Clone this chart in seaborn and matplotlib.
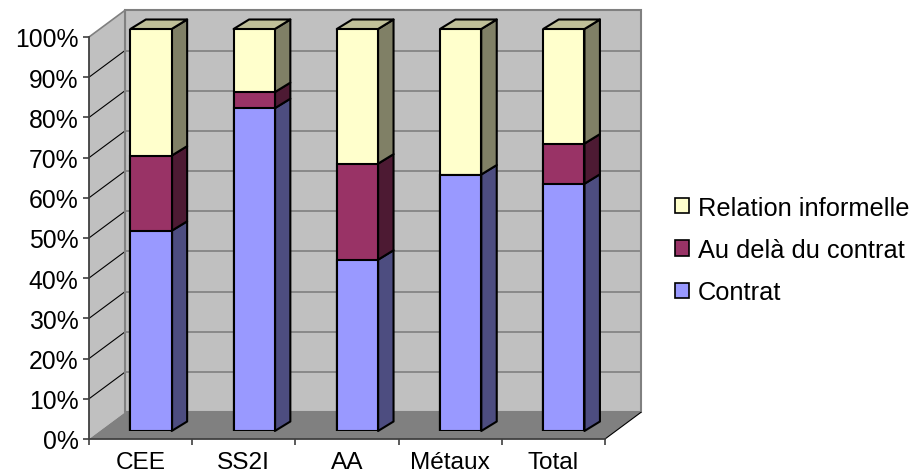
import numpy as np
import matplotlib
matplotlib.use("Agg")
import matplotlib.pyplot as plt
import seaborn as sns
from matplotlib.patches import Patch

categories = ["CEE", "SS2I", "AA", "Métaux", "Total"]
contrat = [49.8, 80.3, 42.6, 63.8, 61.5]
au_dela = [18.7, 4, 23.9, 0, 10]
informelle = [31.5, 15.7, 33.5, 36.2, 28.5]
y_ticks = [0, 10, 20, 30, 40, 50, 60, 70, 80, 90, 100]
series_names = ["Contrat", "Au delà du contrat", "Relation informelle"]

sns.set_theme(style="white")
plt.rcParams["font.family"] = ["Liberation Sans", "DejaVu Sans"]

W, H = 912, 477
colors = ["#9999FF", "#993366", "#FFFFCC"]
side_colors = ["#4D4D80", "#4D1A33", "#808066"]
top_color = "#C0C099"
wall = "#C0C0C0"
grid = "#808080"

fig = plt.figure(figsize=(W / 100, H / 100), dpi=100, facecolor="white")

# ── Front plane: ticks and labels, walls drawn behind with an offset ──
x0, x1, y0, y1 = 89, 605, 440, 38
ax = fig.add_axes([x0 / W, 1 - y0 / H, (x1 - x0) / W, (y0 - y1) / H])
ax.set_xlim(-0.5, 4.5)
ax.set_ylim(0, 100)
ax.patch.set_alpha(0)

px_x = 5 / (x1 - x0)
px_y = 100 / (y0 - y1)
depth_x, depth_y = 36 * px_x, 26.7 * px_y

# back wall
ax.fill([-0.5 + depth_x, 4.5 + depth_x, 4.5 + depth_x, -0.5 + depth_x],
        [depth_y, depth_y, 100 + depth_y, 100 + depth_y],
        fc=wall, ec=grid, lw=1.5, clip_on=False, zorder=1)
# left wall
ax.fill([-0.5, -0.5 + depth_x, -0.5 + depth_x, -0.5],
        [0, depth_y, 100 + depth_y, 100],
        fc=wall, ec="none", clip_on=False, zorder=1)
# floor
ax.fill([-0.5, -0.5 + depth_x, 4.5 + depth_x, 4.5],
        [0, depth_y, depth_y, 0],
        fc=grid, ec="none", clip_on=False, zorder=1.5)
ax.plot([4.5, 4.5 + depth_x], [0, depth_y], color="black", lw=0.8, clip_on=False, zorder=2)

for v in y_ticks[1:]:
    if v < 100:
        ax.plot([-0.5 + depth_x, 4.5 + depth_x], [v + depth_y] * 2, color=grid, lw=1.2,
                clip_on=False, zorder=1.6)
        ax.plot([-0.5, -0.5 + depth_x], [v, v + depth_y], color="black", lw=0.8,
                clip_on=False, zorder=2)
ax.plot([-0.5, -0.5 + depth_x], [100, 100 + depth_y], color=grid, lw=1.2, clip_on=False, zorder=2)
ax.plot([-0.5 + depth_x] * 2, [depth_y, 100 + depth_y], color=grid, lw=1.5, clip_on=False, zorder=2)

ax.set_yticks(y_ticks)
ax.set_yticklabels([f"{v}%" for v in y_ticks], fontsize=17.8, color="black")
ax.set_xticks(range(len(categories)))
ax.set_xticklabels(categories, fontsize=17.6, color="black")
ax.set_xticks(np.arange(-0.5, 5), minor=True)
ax.tick_params(axis="x", which="major", length=0, pad=8.5)
ax.tick_params(axis="x", which="minor", length=4.5, width=1.2, color="#404040", bottom=True)
ax.tick_params(axis="y", length=4.5, width=1.2, color="#404040", pad=3, left=True)
for s in ["top", "right"]:
    ax.spines[s].set_visible(False)
for s in ["left", "bottom"]:
    ax.spines[s].set_color("#404040")
    ax.spines[s].set_linewidth(1.3)
    ax.spines[s].set_zorder(3)

# ── Bars sit a little deeper than the front plane ─────────────────────
bx0, by0 = x0 + 10.4, 432
ax_bars = fig.add_axes([bx0 / W, 1 - by0 / H, (x1 - x0) / W, 402 / H])
ax_bars.patch.set_alpha(0)

low = np.array(contrat, dtype=float)
mid = low + np.array(au_dela)
high = mid + np.array(informelle)
bar_w = 0.4
side_x, side_y = 15.5 * px_x, 9.5 * px_y

# tallest first so the lower segments paint over it
for top, c in zip([high, mid, low], colors[::-1]):
    sns.barplot(x=categories, y=top, color=c, saturation=1, width=bar_w, edgecolor="black",
                linewidth=1.5, ax=ax_bars, zorder=3)

ax_bars.set_xlim(-0.5, 4.5)
ax_bars.set_ylim(0, 100)
ax_bars.axis("off")

for i in range(len(categories)):
    r = i + bar_w / 2
    l = i - bar_w / 2
    bottom = 0
    for top, c in zip([low[i], mid[i], high[i]], side_colors):
        if top > bottom:
            ax_bars.fill([r, r + side_x, r + side_x, r],
                         [bottom, bottom + side_y, top + side_y, top],
                         fc=c, ec="black", lw=1.5, joinstyle="round", clip_on=False, zorder=2)
        bottom = top
    ax_bars.fill([l, l + side_x, r + side_x, r],
                 [high[i], high[i] + side_y, high[i] + side_y, high[i]],
                 fc=top_color, ec="black", lw=1.5, joinstyle="round", clip_on=False, zorder=2)

# ── Legend ────────────────────────────────────────────────────────────
handles = [Patch(fc=c, ec="black", lw=1.2, label=n) for c, n in zip(colors[::-1], series_names[::-1])]
fig.legend(handles=handles, loc="center left", bbox_to_anchor=(675 / W, 1 - 251 / H), frameon=False,
           fontsize=18.3, handlelength=0.55, handleheight=0.55, handletextpad=0.36, labelspacing=0.72,
           borderpad=0, borderaxespad=0, labelcolor="black")

fig.savefig("out.png", dpi=100)
